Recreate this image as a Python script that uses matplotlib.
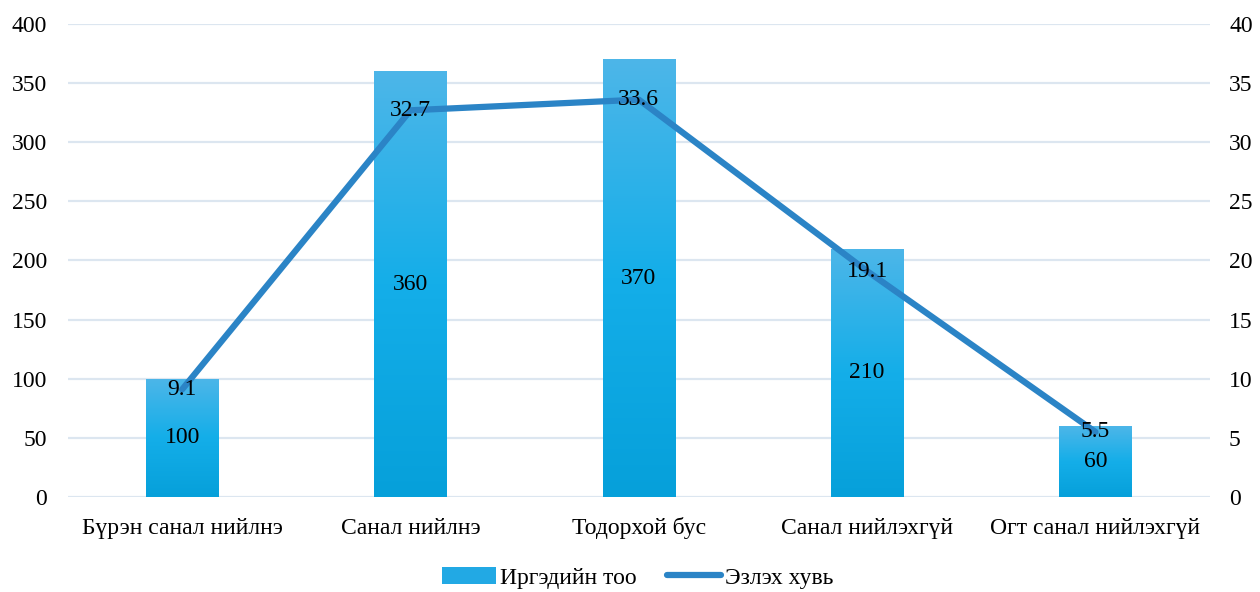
import numpy as np
import matplotlib.pyplot as plt
from matplotlib.colors import LinearSegmentedColormap
from matplotlib.patches import Patch
from matplotlib.lines import Line2D

plt.rcParams['font.family'] = ['Liberation Serif', 'DejaVu Serif']
plt.rcParams['font.size'] = 17

# data
categories = ["Бүрэн санал нийлнэ", "Санал нийлнэ", "Тодорхой бус",
              "Санал нийлэхгүй", "Огт санал нийлэхгүй"]
citizens = [100, 360, 370, 210, 60]
percent = [9.1, 32.7, 33.6, 19.1, 5.5]

bar_name = "Иргэдийн тоо"
line_name = "Эзлэх хувь"

line_col = '#2B84C6'
grid_col = '#DCE6F0'
grad = LinearSegmentedColormap.from_list('g', ['#06A0DA', '#14AEE9', '#4DB6E8'])

fig = plt.figure(figsize=(12.6, 5.92), dpi=100)
ax = fig.add_axes([0.054, 0.1605, 0.906, 0.799])
ax2 = ax.twinx()

x = np.arange(len(categories))
bars = ax.bar(x, citizens, width=0.316, color='none', zorder=2)

# gradient fill inside each bar
g = np.linspace(0, 1, 256).reshape(-1, 1)
for b in bars:
    x0, w, h = b.get_x(), b.get_width(), b.get_height()
    im = ax.imshow(g, cmap=grad, origin='lower', aspect='auto',
                   extent=[x0, x0 + w, 0, h], zorder=2)
    im.set_clip_path(b)

for xi, v in zip(x, citizens):
    ax.text(xi, v / 2, str(v), ha='center', va='center', zorder=5)

ax.set_xlim(-0.5, len(categories) - 0.5)
ax.set_ylim(0, 400)
ax.set_yticks(range(0, 401, 50))
ax.set_xticks(x)
ax.set_xticklabels(categories)
for lab in ax.get_xticklabels():
    lab.set_va('baseline')
ax.yaxis.grid(True, color=grid_col, linewidth=1.6, zorder=0)
ax.set_axisbelow(True)
ax.tick_params(length=0)
ax.tick_params(axis='x', pad=27)
ax.tick_params(axis='y', pad=15)
for s in ax.spines.values():
    s.set_visible(False)

ax2.plot(x, percent, color=line_col, linewidth=4.5, solid_capstyle='round',
         solid_joinstyle='round', zorder=3)
for xi, v in zip(x, percent):
    ax2.text(xi, v, str(v), ha='center', va='center', zorder=5)
ax2.set_ylim(0, 40)
ax2.set_yticks(range(0, 41, 5))
ax2.tick_params(length=0, pad=14)
for s in ax2.spines.values():
    s.set_visible(False)

handles = [Patch(facecolor='#22A9E4', edgecolor='none'),
           Line2D([0], [0], color=line_col, linewidth=4.5, solid_capstyle='round')]
fig.legend(handles, [bar_name, line_name], loc='center', bbox_to_anchor=(0.506, 0.024),
           ncol=2, frameon=False, handlelength=2.3, handletextpad=0.15,
           columnspacing=1.3)

fig.savefig('out.png', dpi=100)
